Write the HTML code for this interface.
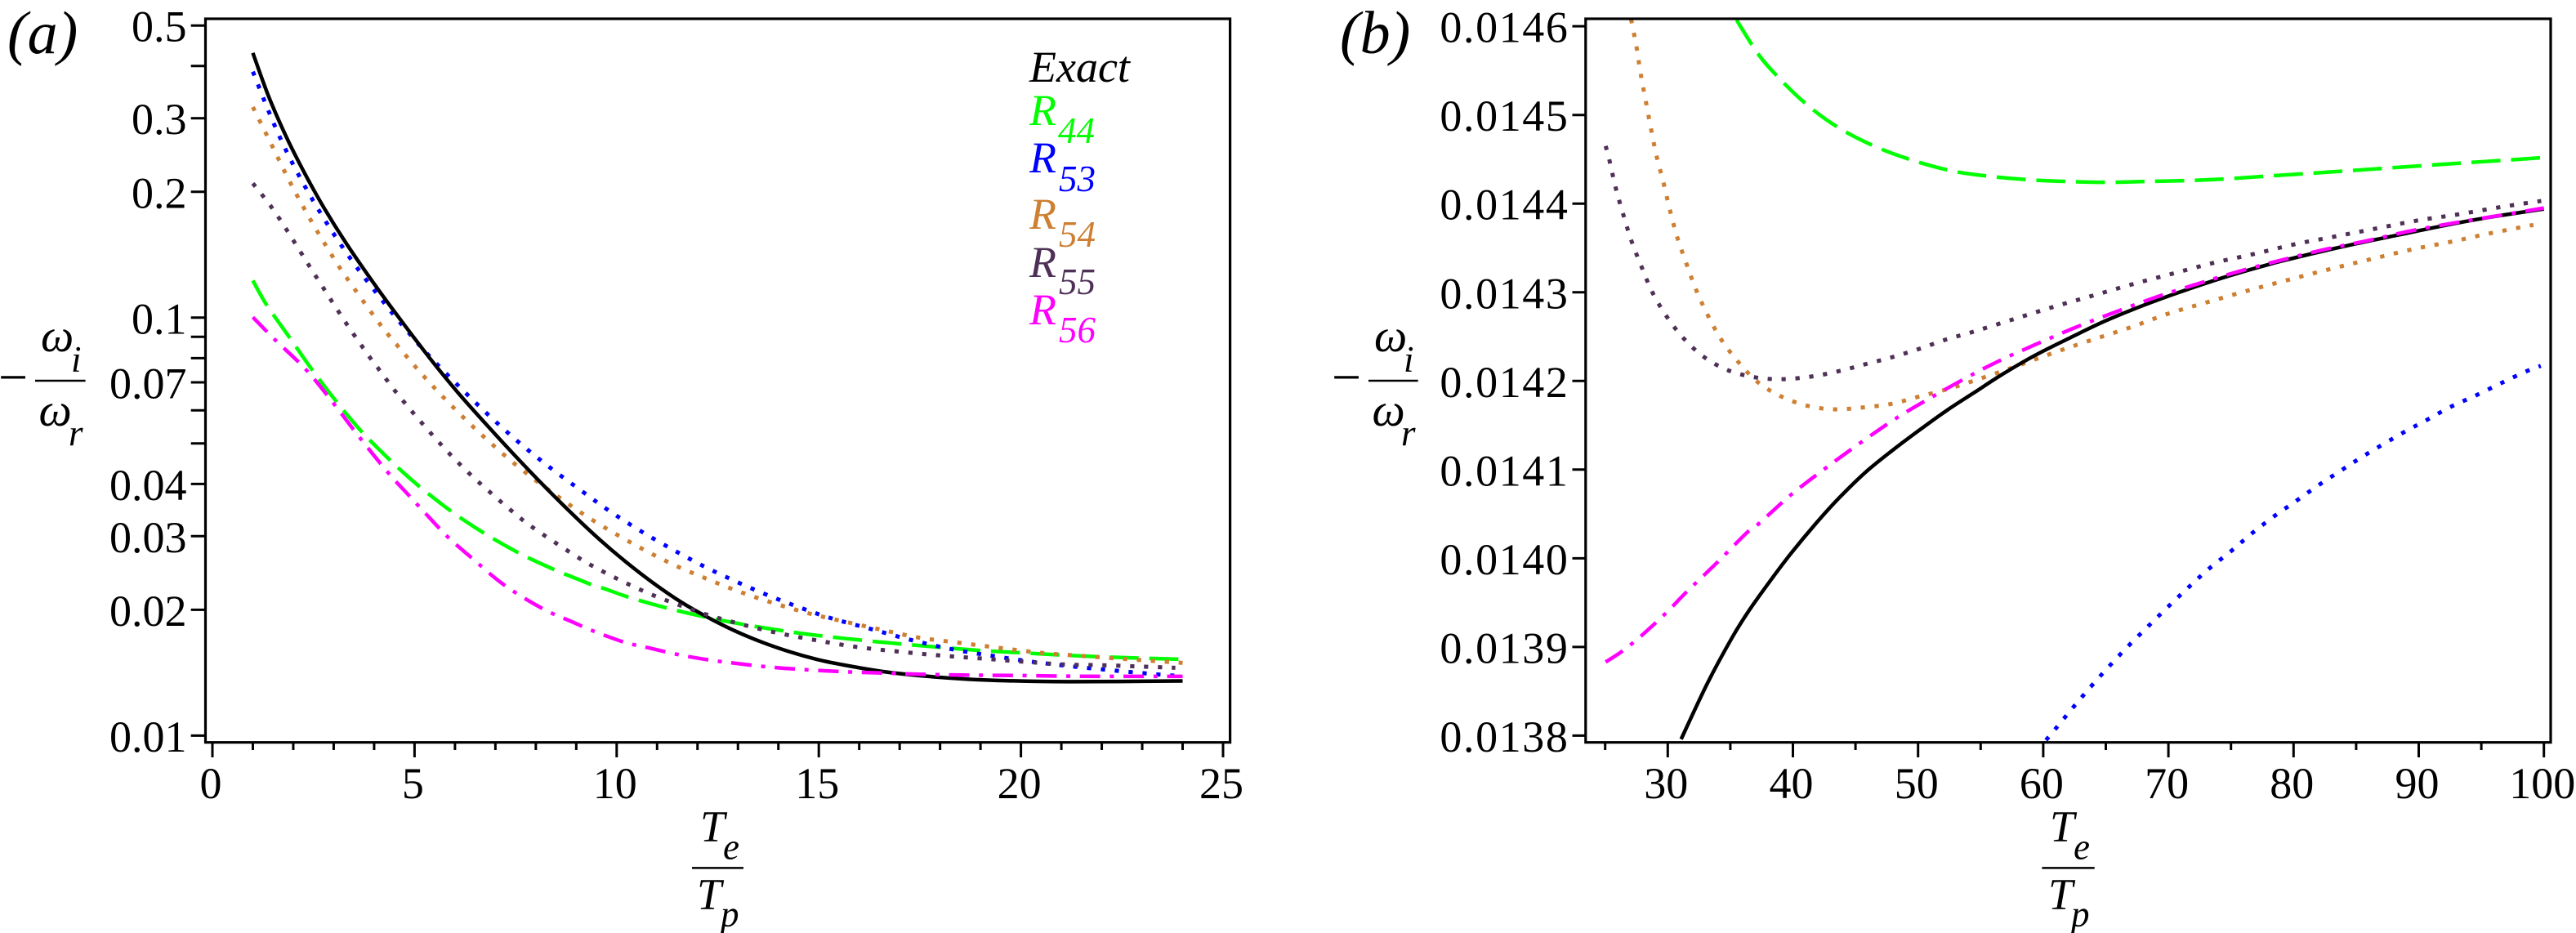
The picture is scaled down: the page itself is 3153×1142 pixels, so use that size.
<!DOCTYPE html>
<html lang="en">
<head>
<meta charset="utf-8">
<title>Damping ratio versus temperature ratio: exact solution and rational approximations</title>
<style>
html,body{margin:0;padding:0;background:#fff;}
svg{display:block;}
text{font-family:"Liberation Serif","DejaVu Serif",serif;fill:#000;}
.tick{font-size:54px;}
.it{font-style:italic;font-size:54px;}
.om{font-style:italic;font-size:57px;}
.minus{font-size:64px;}
.sub{font-style:italic;font-size:45px;}
.panel{font-style:italic;font-size:74px;}
</style>
</head>
<body>
<svg id="chart" xmlns="http://www.w3.org/2000/svg" width="3153" height="1142" viewBox="0 0 3153 1142">
  <rect x="0" y="0" width="3153" height="1142" fill="#fff"/>
  <defs>
    <clipPath id="clip-a"><rect x="251.5" y="23" width="1254" height="885.7"/></clipPath>
    <clipPath id="clip-b"><rect x="1940.8" y="23" width="1181.2" height="885.7"/></clipPath>
  </defs>
  <g id="plot-a"></g>
  <g id="plot-b"></g>

  <text class="panel" x="9" y="65">(a)</text>
  <text class="panel" x="1640" y="65">(b)</text>

  <g>
    <text class="minus" x="-2" y="483">−</text>
    <text class="om" x="50" y="430">ω</text><text class="sub" x="87" y="455">i</text>
    <line x1="43" x2="104.6" y1="466" y2="466" stroke="#000" stroke-width="2.5"/>
    <text class="om" x="47.5" y="521">ω</text><text class="sub" x="84" y="545">r</text>
  </g>
  <g>
    <text class="minus" x="1630" y="483">−</text>
    <text class="om" x="1682" y="430">ω</text><text class="sub" x="1718" y="455">i</text>
    <line x1="1675" x2="1735.7" y1="466" y2="466" stroke="#000" stroke-width="2.5"/>
    <text class="om" x="1679.5" y="521">ω</text><text class="sub" x="1715" y="545">r</text>
  </g>
  <g>
    <text class="it" x="857" y="1029.5">T</text><text class="sub" x="885" y="1051.5">e</text>
    <line x1="847" x2="910" y1="1062.4" y2="1062.4" stroke="#000" stroke-width="2.5"/>
    <text class="it" x="853" y="1112.5">T</text><text class="sub" x="882" y="1134">p</text>
  </g>
  <g>
    <text class="it" x="2509" y="1029.5">T</text><text class="sub" x="2538" y="1051.5">e</text>
    <line x1="2499.4" x2="2563.7" y1="1062.4" y2="1062.4" stroke="#000" stroke-width="2.5"/>
    <text class="it" x="2507" y="1112.5">T</text><text class="sub" x="2535" y="1134">p</text>
  </g>

  <g>
    <text class="it" x="1260" y="100">Exact</text>
    <g><text class="it" style="fill:#00ff00" x="1260" y="153">R</text><text class="sub" style="fill:#00ff00" x="1295" y="175">44</text></g>
    <g><text class="it" style="fill:#0000ff" x="1260" y="211">R</text><text class="sub" style="fill:#0000ff" x="1296" y="234">53</text></g>
    <g><text class="it" style="fill:#cd7f32" x="1260" y="280">R</text><text class="sub" style="fill:#cd7f32" x="1296" y="302">54</text></g>
    <g><text class="it" style="fill:#4f3057" x="1260" y="339">R</text><text class="sub" style="fill:#4f3057" x="1296" y="360">55</text></g>
    <g><text class="it" style="fill:#ff00ff" x="1260" y="397">R</text><text class="sub" style="fill:#ff00ff" x="1296" y="419">56</text></g>
  </g>
</svg>

<script>
// ---- Panel (a) data: T_e/T_p versus -omega_i/omega_r ----
const aExactX = [1,1.38,1.82,2.26,2.76,3.3,4.03,4.72,5.39,6.06,6.74,7.41,8.08,8.89,9.57,10.24,10.91,11.59,12.26,12.93,13.61,14.28,14.96,15.55,16.59,17.62,18.65,19.68,21.2,24];
const aExactY = [0.43,0.3403,0.2717,0.2236,0.1831,0.1511,0.1194,0.0969,0.0797,0.0664,0.056,0.0476,0.0407,0.034,0.0295,0.02598,0.02316,0.02088,0.01917,0.0178,0.01671,0.01587,0.01521,0.0148,0.01423,0.01388,0.01365,0.01353,0.01346,0.01351];
const aR44X = [1,1.34,1.91,2.48,3.1,3.72,4.41,4.61,5.15,5.93,6.76,7.64,8.51,8.89,9.4,9.67,10.34,11.3,12.26,13.22,14.2,14.96,16.15,17.13,18.11,19.09,20.07,21.05,22.03,23.01,24];
const aR44Y = [0.1227,0.1073,0.0896,0.0747,0.0624,0.053,0.04545,0.04358,0.03923,0.03428,0.03034,0.02716,0.02482,0.02399,0.02293,0.02252,0.02137,0.02013,0.01916,0.01839,0.01777,0.01737,0.01688,0.01654,0.01623,0.01596,0.01577,0.01558,0.01543,0.01532,0.01522];
const aR53X = [1,1.516,1.954,2.451,2.991,3.577,4.21,4.648,5.32,6.04,6.78,7.55,8.35,9.18,9.74,10.31,10.91,11.51,12.11,12.73,13.36,14,14.65,15.3,16.28,17.29,18.3,19.32,20.35,21.36,22.39,23.41,24];
const aR53Y = [0.3878,0.2916,0.2368,0.1934,0.1591,0.1317,0.1097,0.0972,0.0818,0.0694,0.0591,0.0506,0.0438,0.0382,0.0349,0.0321,0.0296,0.02745,0.02555,0.02391,0.02245,0.02118,0.02006,0.0191,0.018,0.01693,0.01609,0.0155,0.01499,0.01461,0.01429,0.014,0.01388];
const aR54X = [1,1.461,1.92,2.411,2.945,3.32,4.123,4.561,5.006,5.463,5.942,6.433,6.946,7.464,8.01,8.563,9.125,9.715,10.31,10.91,11.53,12.17,12.81,13.45,14.11,14.77,15.45,16.46,17.46,18.49,19.5,20.53,21.56,22.6,24];
const aR54Y = [0.3191,0.2594,0.2109,0.1725,0.1415,0.1246,0.0971,0.0861,0.0766,0.0684,0.0612,0.055,0.0495,0.0448,0.0407,0.03724,0.03412,0.03142,0.02911,0.02708,0.02532,0.02385,0.02252,0.0214,0.02043,0.01959,0.01891,0.018,0.01717,0.01667,0.0162,0.01577,0.0155,0.01524,0.01493];
const aR55X = [1,1.435,1.819,2.183,2.552,3.304,3.892,4.097,4.507,4.945,5.396,5.861,6.352,6.857,7.377,7.92,9.068,9.667,10.287,10.913,11.56,12.21,12.87,13.54,14.21,14.89,15.91,16.94,17.97,19,20.02,21.05,22.1,23.13,23.82];
const aR55Y = [0.2096,0.1853,0.1632,0.1434,0.1259,0.0971,0.0804,0.0757,0.067,0.0595,0.053,0.0473,0.0424,0.0383,0.03465,0.0315,0.0266,0.02468,0.02304,0.02165,0.0205,0.0195,0.0187,0.018,0.01742,0.01694,0.01631,0.0159,0.01556,0.0153,0.01504,0.0148,0.01473,0.01461,0.01453];
const aR56X = [1,1.55,2.32,3.01,3.66,4.37,4.885,5.3,5.83,6.4,7.22,8.15,8.89,9.44,10.19,10.78,11.53,12.31,12.9,13.68,14.46,15.55,16.64,17.74,18.8,19.88,20.99,22.05,24];
const aR56Y = [0.1002,0.0885,0.075,0.0621,0.0514,0.0423,0.03734,0.03377,0.02983,0.02669,0.02292,0.02017,0.01873,0.01777,0.01673,0.01623,0.01562,0.01516,0.01491,0.01462,0.01442,0.01423,0.01411,0.014,0.01395,0.01393,0.01388,0.01386,0.01386];

// ---- Panel (b) data ----
const bExactX = [31.07,33.17,35.16,36.49,38.16,39.82,41.82,43.62,45.8,47.98,50.15,52.32,54.5,56.68,59.36,62.19,65.01,68.14,71.27,74.72,78.17,81.61,85.06,88.5,91.95,95.4,100];
const bExactY = [0.013796,0.013859,0.013911,0.013941,0.013974,0.014005,0.014039,0.014067,0.014097,0.014122,0.014145,0.014167,0.014187,0.014207,0.014229,0.014249,0.014268,0.014286,0.014302,0.014318,0.014332,0.014344,0.014355,0.014365,0.014375,0.014384,0.014394];
const bR44X = [35.5,37.16,38.66,41,43.49,46.32,49.3,52.65,55.6,58.74,61.87,65.16,68.3,71.6,74.7,77.85,81.14,84.28,87.41,90.54,93.68,96.97,100];
const bR44Y = [0.014607,0.01457,0.014545,0.014513,0.014487,0.014466,0.01445,0.014437,0.014431,0.014427,0.014425,0.014424,0.014425,0.014426,0.014428,0.014431,0.014434,0.014437,0.01444,0.014443,0.014446,0.014449,0.014452];
const bR53X = [60.22,60.94,62.34,63.79,65.25,66.79,68.36,69.95,71.59,73.22,75,76.66,78.41,80.24,82.05,83.9,85.78,88.67,90.64,92.58,94.62,96.65,98.62,99.75];
const bR53Y = [0.013795,0.013807,0.013831,0.013855,0.013878,0.013901,0.013923,0.013945,0.013967,0.013988,0.014008,0.014028,0.014047,0.014065,0.014083,0.0141,0.014117,0.014141,0.014156,0.014171,0.014184,0.014198,0.014211,0.014217];
const bR54X = [27.07,27.5,27.83,28.24,28.67,29.1,29.67,30.17,30.76,31.5,32.26,33.17,34.26,35.6,37.16,38.99,41.15,43.32,45.49,47.82,49.98,52.15,54.2,57.33,60.47,63.6,66.89,70.02,73.15,76.38,79.58,82.87,86.09,89.36,92.58,95.87,99.16];
const bR54Y = [0.014608,0.014577,0.014547,0.014516,0.014484,0.014454,0.014423,0.014393,0.014362,0.014332,0.014303,0.014275,0.014247,0.014222,0.014199,0.014183,0.014172,0.014168,0.01417,0.014174,0.014182,0.01419,0.014199,0.014214,0.01423,0.014245,0.01426,0.014276,0.014289,0.014302,0.014314,0.014326,0.014337,0.014348,0.014357,0.014367,0.014376];
const bR55X = [25.04,25.34,25.84,26.44,27.1,27.9,28.77,29.9,31.27,32.9,34.83,37,39.16,41.49,43.66,45.82,47.98,50.05,52.3,54.3,57.49,60.69,63.91,67.11,70.33,73.56,76.78,80.05,83.34,86.63,89.92,93.21,96.5,99.79];
const bR55Y = [0.014465,0.014449,0.014418,0.014388,0.014358,0.014329,0.0143,0.014273,0.014248,0.014227,0.014212,0.014204,0.014202,0.014205,0.014211,0.014219,0.014227,0.014236,0.014247,0.014255,0.014269,0.014283,0.014296,0.014309,0.014321,0.014333,0.014343,0.014354,0.014363,0.014372,0.014381,0.014388,0.014396,0.014403];
const bR56X = [25.04,26.34,27.84,29.84,31.5,34,36.33,37.27,39.88,42.64,45.47,48.37,51.37,54.44,56.68,59.21,62.34,65.63,68.92,72.21,75.5,78.95,82.4,85.84,89.29,92.74,96.18,100];
const bR56Y = [0.013883,0.013895,0.013912,0.013938,0.013962,0.013996,0.014029,0.014039,0.014072,0.014102,0.014131,0.014159,0.014184,0.014208,0.014224,0.01424,0.014259,0.014277,0.014294,0.014309,0.014323,0.014336,0.014348,0.014358,0.014369,0.014378,0.014386,0.014395];

// ---- Ticks ----
const aXMajor = [0,5,10,15,20,25];
const aXMinor = [1,2,3,4,6,7,8,9,11,12,13,14,16,17,18,19,21,22,23,24];
const aYTicks = [0.5,0.4,0.3,0.2,0.1,0.09,0.08,0.07,0.06,0.05,0.04,0.03,0.02,0.01];
const aYLabels = ["0.5","0.3","0.2","0.1","0.07","0.04","0.03","0.02","0.01"];
const bXMajor = [30,40,50,60,70,80,90,100];
const bXMinor = [25,35,45,55,65,75,85,95];
const bYTicks = ["0.0146","0.0145","0.0144","0.0143","0.0142","0.0141","0.0140","0.0139","0.0138"];

// ---- Axis functions ----
function xA(v){ return 260 + 49.48 * v; }
function yA(v){ return 900.4 - 511.6 * Math.log10(v / 0.01); }
function xB(v){ return 2041.3 + 15.32 * (v - 30); }
function yB(v){ return 900.4 - (v - 0.0138) / 0.0001 * 108.53; }

const NS = 'http://www.w3.org/2000/svg';
function make(tag, parent){
  const el = document.createElementNS(NS, tag);
  parent.appendChild(el);
  return el;
}
function smoothPath(xs, ys, fx, fy){
  const p = xs.map(function(x, i){ return [fx(x), fy(ys[i])]; });
  let d = 'M' + p[0][0].toFixed(2) + ' ' + p[0][1].toFixed(2);
  for (let i = 0; i < p.length - 1; i++){
    const a = p[Math.max(i - 1, 0)], b = p[i], c = p[i + 1], e = p[Math.min(i + 2, p.length - 1)];
    const c1x = b[0] + (c[0] - a[0]) / 6, c1y = b[1] + (c[1] - a[1]) / 6;
    const c2x = c[0] - (e[0] - b[0]) / 6, c2y = c[1] - (e[1] - b[1]) / 6;
    d += 'C' + c1x.toFixed(2) + ' ' + c1y.toFixed(2) + ' ' + c2x.toFixed(2) + ' ' + c2y.toFixed(2) + ' ' + c[0].toFixed(2) + ' ' + c[1].toFixed(2);
  }
  return d;
}
function drawLine(parent, x1, y1, x2, y2, w){
  const l = make('line', parent);
  l.setAttribute('x1', x1);
  l.setAttribute('y1', y1);
  l.setAttribute('x2', x2);
  l.setAttribute('y2', y2);
  l.setAttribute('stroke', '#000');
  l.setAttribute('stroke-width', w);
  return l;
}
function drawLabel(parent, str, x, y, anchor, spacing){
  const t = make('text', parent);
  t.setAttribute('class', 'tick');
  t.setAttribute('x', x);
  t.setAttribute('y', y);
  t.setAttribute('text-anchor', anchor);
  if (spacing) t.setAttribute('letter-spacing', spacing);
  t.textContent = str;
  return t;
}

const DOT = '5.2 11.8', DASH = '35.5 13', DASHDOT = '25 11.7 5 11.7';
const seriesA = [
  {name:'r44', xs:aR44X, ys:aR44Y, color:'#00ff00', dash:DASH, w:4.5},
  {name:'r53', xs:aR53X, ys:aR53Y, color:'#0000ff', dash:DOT, w:5},
  {name:'r54', xs:aR54X, ys:aR54Y, color:'#cd7f32', dash:DOT, w:5},
  {name:'exact', xs:aExactX, ys:aExactY, color:'#000000', dash:'', w:4.5},
  {name:'r55', xs:aR55X, ys:aR55Y, color:'#4f3057', dash:DOT, w:5},
  {name:'r56', xs:aR56X, ys:aR56Y, color:'#ff00ff', dash:DASHDOT, w:4.5}
];
const seriesB = [
  {name:'r44', xs:bR44X, ys:bR44Y, color:'#00ff00', dash:DASH, w:4.5},
  {name:'r53', xs:bR53X, ys:bR53Y, color:'#0000ff', dash:DOT, w:5},
  {name:'r54', xs:bR54X, ys:bR54Y, color:'#cd7f32', dash:DOT, w:5},
  {name:'r55', xs:bR55X, ys:bR55Y, color:'#4f3057', dash:DOT, w:5},
  {name:'exact', xs:bExactX, ys:bExactY, color:'#000000', dash:'', w:4.5},
  {name:'r56', xs:bR56X, ys:bR56Y, color:'#ff00ff', dash:DASHDOT, w:4.5}
];

function drawSeries(parent, list, fx, fy, clipId, prefix){
  const g = make('g', parent);
  g.setAttribute('clip-path', 'url(#' + clipId + ')');
  
  
  list.forEach(function(s){
    const p = make('path', g);
    p.setAttribute('d', smoothPath(s.xs, s.ys, fx, fy));
    p.setAttribute('fill', 'none');
    p.setAttribute('stroke', s.color);
    p.setAttribute('stroke-width', s.w);
    if (s.dash) p.setAttribute('stroke-dasharray', s.dash);
    
    
  });
}
function drawFrame(parent, l, t, r, b, prefix){
  const f = make('rect', parent);
  f.setAttribute('x', l);
  f.setAttribute('y', t);
  f.setAttribute('width', r - l);
  f.setAttribute('height', b - t);
  f.setAttribute('fill', 'none');
  f.setAttribute('stroke', '#000');
  f.setAttribute('stroke-width', 3.2);
  
  
}

// ---- Panel (a) ----
const plotA = document.getElementById('plot-a');
drawSeries(plotA, seriesA, xA, yA, 'clip-a', 'panel-a');
drawFrame(plotA, 251.5, 23, 1505.6, 908.7, 'panel-a');

const aXAxis = make('g', plotA);


aXMajor.forEach(function(v){
  const l = drawLine(aXAxis, xA(v), 908.7, xA(v), 927, 3);
  
  
  const t = drawLabel(aXAxis, String(v), xA(v) - 2, 977, 'middle');
  
  
});
aXMinor.forEach(function(v){
  const l = drawLine(aXAxis, xA(v), 908.7, xA(v), 918, 3);
  
  
});

const aYAxis = make('g', plotA);


aYTicks.forEach(function(v){
  const l = drawLine(aYAxis, 233.7, yA(v), 251.5, yA(v), 3);
  
  
});
aYLabels.forEach(function(s){
  const t = drawLabel(aYAxis, s, 228.5, yA(parseFloat(s)) + 19.5, 'end');
  
  
});

// ---- Panel (b) ----
const plotB = document.getElementById('plot-b');
drawSeries(plotB, seriesB, xB, yB, 'clip-b', 'panel-b');
drawFrame(plotB, 1940.8, 23, 3122, 908.7, 'panel-b');

const bXAxis = make('g', plotB);


bXMajor.forEach(function(v){
  const l = drawLine(bXAxis, xB(v), 908.7, xB(v), 927, 3);
  
  
  const t = drawLabel(bXAxis, String(v), xB(v) - 2, 977, 'middle');
  
  
});
bXMinor.forEach(function(v){
  const l = drawLine(bXAxis, xB(v), 908.7, xB(v), 918, 3);
  
  
});

const bYAxis = make('g', plotB);


bYTicks.forEach(function(s){
  const v = parseFloat(s);
  const l = drawLine(bYAxis, 1924.5, yB(v), 1940.8, yB(v), 3);
  
  
  const t = drawLabel(bYAxis, s, 1920.5, yB(v) + 19.5, 'end', 1.6);
  
  
});
</script>
</body>
</html>
